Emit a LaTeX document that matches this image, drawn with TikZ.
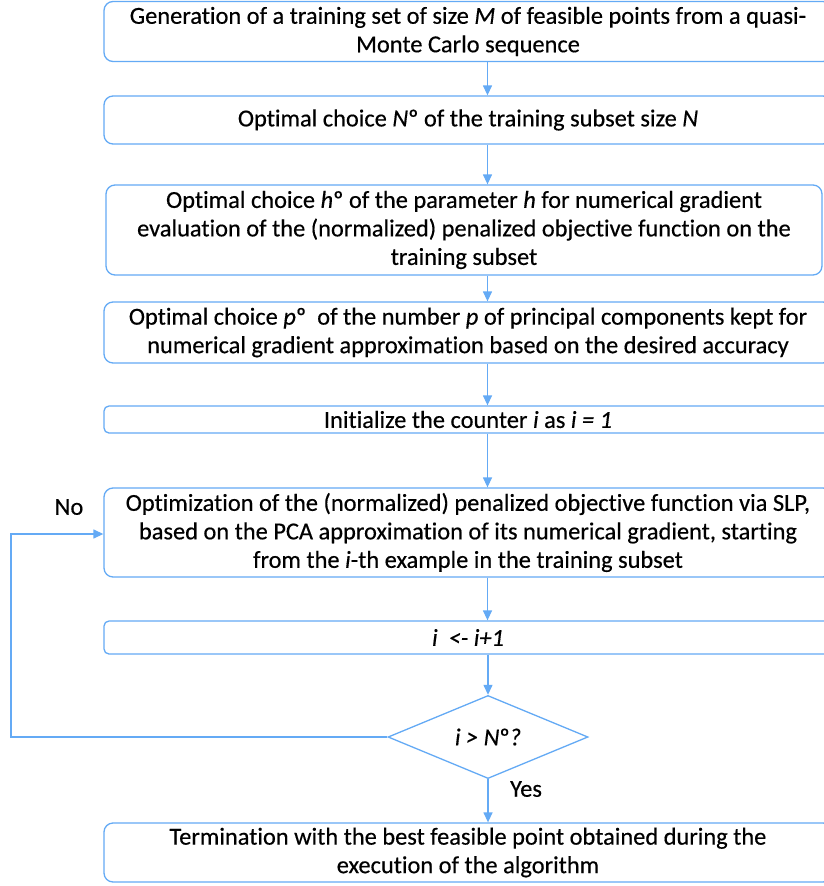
\documentclass[tikz,border=0pt]{standalone}
\usepackage{fontspec}
\setmainfont{Carlito}[Ligatures={TeX,NoCommon},FakeBold=0.4,
  UprightFeatures={FakeBold=0.4},ItalicFeatures={FakeBold=0.4}]
\usetikzlibrary{shapes.geometric,arrows.meta}
\definecolor{fc}{RGB}{100,170,245}
\begin{document}
\begin{tikzpicture}[x=1pt,y=-1pt,
  box/.style={draw=fc, line width=1.3pt, rounded corners=9pt, inner sep=0pt,
    minimum width=728pt, align=center, font=\fontsize{24.4}{28.5}\selectfont},
  smallbox/.style={box, rounded corners=5pt},
  arr/.style={draw=fc, line width=1.3pt, -{Triangle[length=10pt,width=9pt]}},
  lbl/.style={font=\fontsize{24.4}{28}\selectfont}]
\useasboundingbox (0,0) rectangle (824,886);
\fill[white] (0,0) rectangle (824,886);

\node[box, minimum height=60pt] (b1) at (468,31.5)
  {Generation of a training set of size \textit{M} of feasible points from a quasi-\\Monte Carlo sequence};
\node[box, minimum height=48pt] (b2) at (468,120)
  {Optimal choice \textit{N}º of the training subset size \textit{N}};
\node[box, minimum height=90pt, minimum width=716pt] (b3) at (464,230)
  {Optimal choice \textit{h}º of the parameter \textit{h} for numerical gradient\\evaluation of the (normalized) penalized objective function on the\\training subset};
\node[box, minimum height=61pt] (b4) at (468,332.5)
  {Optimal choice \textit{p}º~ of the number \textit{p} of principal components kept for\\numerical gradient approximation based on the desired accuracy};
\node[smallbox, minimum height=27pt] (b5) at (468,419.5)
  {Initialize the counter \textit{i} as \textit{i = 1}};
\node[box, minimum height=89pt] (b6) at (468,532.5)
  {Optimization of the (normalized) penalized objective function via SLP,\\based on the PCA approximation of its numerical gradient, starting\\from the \textit{i}-th example in the training subset};
\node[smallbox, minimum height=33pt] (b7) at (468,637.5)
  {\textit{i~~<- i+1}};
\node[draw=fc, line width=1.3pt, diamond, inner sep=0pt, minimum width=200pt,
  minimum height=83pt, font=\fontsize{24.4}{28}\selectfont] (dia) at (488,737)
  {\textit{i > N}º\textit{?}};
\node[box, minimum height=59pt] (b8) at (468,852.5)
  {Termination with the best feasible point obtained during the\\execution of the algorithm};

\node[lbl] (no) at (69,507) {No};
\node[lbl] (yes) at (526,789) {Yes};

\coordinate (ax) at (487.5,0);
\coordinate (lc) at (11,534);
\draw[arr] (b1.south -| ax) -- (b2.north -| ax);
\draw[arr] (b2.south -| ax) -- (b3.north -| ax);
\draw[arr] (b3.south -| ax) -- (b4.north -| ax);
\draw[arr] (b4.south -| ax) -- (b5.north -| ax);
\draw[arr] (b5.south -| ax) -- (b6.north -| ax);
\draw[arr] (b6.south -| ax) -- (b7.north -| ax);
\draw[arr] (b7.south -| dia.north) -- (dia.north);
\draw[arr] (dia.south) -- (b8.north -| dia.south);
\draw[arr] (dia.west) -| (lc) -- (b6.west |- lc);
\end{tikzpicture}
\end{document}
